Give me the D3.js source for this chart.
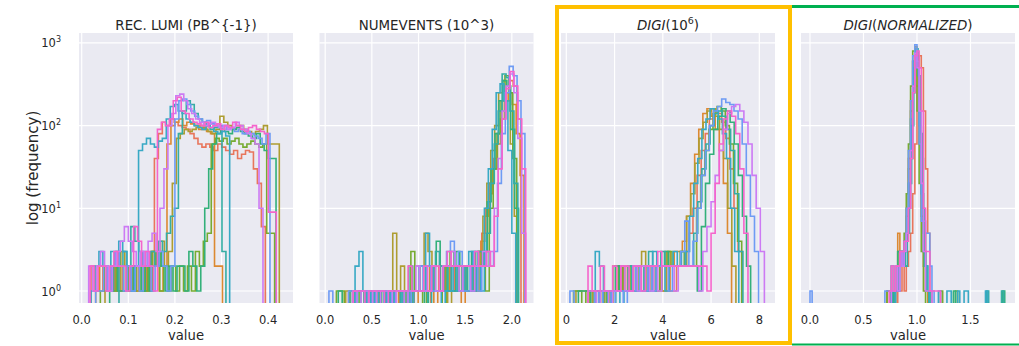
<!DOCTYPE html>
<html>
<head>
<meta charset="utf-8">
<script src="https://cdn.jsdelivr.net/npm/d3@7"></script>
<style>
  body { margin: 0; background: #fff; }
  svg text { font-family: "DejaVu Sans", sans-serif; fill: #262626; }
</style>
</head>
<body>
<svg id="chart" width="1019" height="346"></svg>
<script>
// husl-ish palette, one colour per run
const palette = ["#e8765c", "#dc8932", "#ae9d31", "#77ab31", "#33b07a",
                 "#36ada4", "#38a9c5", "#6e9bf4", "#cc7af4", "#f565cc"];

// ---- REC. LUMI ----
const lumiBin = 0.0085;
const lumiStart = [0.02, 0.03, 0.05, 0.04, 0.06, 0.08, 0.02, 0.03, 0.015, 0.018];
const lumiCounts = [
  [2,1,2,1,1,2,1,2,1,2,1,1,2,2,1,2, 40,80,110,100,120,110,100,95,90,80,70,60,55,60,55,50,60,55,50,45,50,40,45,50,48,30,20,6],
  [1,2,1,1,2,1,1,2,1,2,1,2,1,2,3,2,1,2, 60,100,110,120,100,110,105,100,90,95,85,80,2,2],
  [1,1,2,1,3,2,1,2,1,1,2,1,3,2,4,2,3, 20,70,80,90,85,90,95,100,90,85,80,90,130,110,100,90,95,100,90,85,80,85,90,100,60,60,60],
  [1,2,1,1,3,2,2,1,1,2,1,1,2,3,2,1,2,1,2,1,2,1,2,1,3,2,4,5, 60,70,65,70,60,65,70,60,55,60,65,60,55,60,5,5],
  [1,2,1,1,2,1,2,2,1,2,1,2,3,2,1,2,1,2,2,1,3,2,1,2, 10,30,60,80,90,85,80,90,95,85,80,75,70,80,60,50,40,40],
  [2,3,2,6,4,3,2,2,3,2,4,3,5,8,10, 80,150,200,180,140,120,110,100,90,95,100,3],
  [1,2,3,2,1,3,2,4,3,2,1,2, 50,60,70,60,55,65,70,120,170,180,150,140,120,110,100,95,90,100,95,85,80,85,75],
  [1,1,2,1,2,3,2,1,2,1,2,1,3,2,1,2,3,2,1,2, 120,200,210,180,150,130,120,110,115,105,100,95,100,90,95,85,90,80,85,80,75,70,60,80],
  [2,1,2,3,2,1,2,3,4,6,4,3,2,3,2,4,5,3,10, 30,100,140,230,240,200,160,140,120,110,100,105,110,100,95,100,90,95,110,100,90,80,70,60,10],
  [2,1,2,2,1,2,3,2,2,1,2,6,4,2,3,2,1, 90,110,100,120,200,220,150,140,120,110,105,100,110,95,100,105,90,100,95,110,100,90,85,95,100,90,85,80,9,9]
];

// ---- NUMEVENTS ----
const eventsBin = 0.042;
const eventsStart = [0.25, 0.45, 0.22, 0.12, 0.14, 0.3, 0.32, 0.04, 0.3, 0.3];
const eventsCounts = [
  [1,0,1,1,0,1,0,1,1,0,1,1,0,1,1,0,1,2,1,1,0,1,1,2,1,1,2,1,1,1,2,2,1, 3,5,10,20,40,80,150,250,350,300,120],
  [1,0,0,1,1,0,1,0,1,1,0,1,0,1,1,2,1,0,1,1,2,1,1,1,0,1,1,2,1, 4,8,15,30,60,120,200,250,180,80,25],
  [1,0,1,0,0,1,1,0,1,0,0,1,5,1,2,1,0,1,1,2,5,3,1,1,2,1,0,1,1,2,1,1,2,1,3, 8,20,50,100,250,350,200,60,8],
  [1,1,0,0,0,1,0,1,1,0,1,0,1,1,0,1,1,0,1,3,1,1,0,1,2,1,1,0,2,3,2,1,2,1,1,2,3,2,1, 10,30,80,200,400,250,40],
  [1,0,0,1,0,1,1,0,0,1,1,0,1,0,1,1,0,1,2,1,1,1,0,1,2,4,1,2,1,1,3,2,2,1,3,2,2,3, 12,30,80,200,350,300,90,10],
  [1,1,0,1,0,1,1,0,1,0,1,1,0,1,0,1,1,2,1,0,1,3,2,1,2,1,1,2,1,2,1,2,3,2,5, 20,60,150,420,380,150,20],
  [2,3,1,0,1,0,1,1,0,1,0,0,1,1,0,1,1,1,5,2,1,1,0,1,1,2,1,1,2,3,1,2,1, 10,30,90,250,320,200,50,5],
  [1,0,0,0,0,1,0,1,1,0,1,0,1,1,0,1,0,1,1,1,0,1,1,2,1,2,1,1,1,2,3,4,2,3,1,1,2,3,1,2,3,2,3, 20,80,250,520,400,200,80],
  [1,0,1,1,0,1,0,1,1,1,0,1,1,0,1,1,2,1,1,1,2,1,1,2,2,3,2,1,2,2,1,2,2,3,2,3, 10,40,150,300,420,250,70,5],
  [1,1,1,0,1,1,1,1,0,1,1,1,1,1,2,1,1,1,2,1,2,2,1,2,3,2,2,2,2,2,2,3,2,2,3,2, 8,30,120,280,450,300,120,30]
];

// ---- DIGI (10^6) ----
const digiBin = 0.17;
const digiStart = [1.0, 0.9, 0.4, 0.3, 0.5, 1.2, 1.2, 0.15, 0.9, 0.9];
const digiCounts = [
  [1,0,1,1,0,1,1,1,2,1,1,2,1,1,2,2,1,2,2,1,1,2,2,3, 5,10,25,50,80,120,150,140,110,70,30,10,3],
  [1,1,0,1,1,0,1,2,2,1,1,2,1,1,2,1,2,2,1,1,2,3, 3,4,8,20,45,90,140,160,130,90,50,20,5],
  [1,1,1,0,1,1,0,1,0,2,2,1,1,2,1,2,3,1,2,2,2,1,3,2,2,2,2, 8,15,35,70,110,150,160,130,90,40,10,2],
  [1,1,0,1,0,1,1,1,0,1,1,2,1,1,2,2,1,1,2,2,1,2,2,3,2,2,3,2,2,2, 10,25,50,90,140,170,150,100,60,20,4],
  [1,1,1,0,1,0,1,1,1,2,1,1,1,2,1,1,2,2,1,2,2,3,2,2,2,2,2,2,2,1, 6,20,45,90,130,160,150,110,60,25,8,2],
  [1,0,1,1,0,1,1,1,2,2,1,1,1,3,2,2,3,2,2,2,2,3,2,2, 5,12,30,60,100,140,150,130,90,50,15,3],
  [3,2,1,0,1,1,0,1,1,2,1,1,2,1,3,2,2,1,2,3,2,2,3, 8,20,40,90,120,160,150,120,80,40,10,3],
  [1,0,0,0,0,0,1,0,1,1,0,1,1,0,1,1,2,1,1,2,1,2,2,2,1,2,2,3,7,2, 4,10,25,50,100,150,170,210,190,180,150,120,60,25,8,3],
  [1,1,0,1,1,0,1,1,2,1,1,2,1,2,2,1,2,1,2,2,2,1,2,2,2,2,2,1, 3,6,12,25,50,90,140,170,180,150,110,60,25,10,3],
  [2,1,1,2,1,1,2,1,2,2,1,2,2,1,2,2,2,3,2,2,2,2,2,2,2,2,2,2,2,1, 5,20,60,120,150,130,80,30,5]
];

// ---- DIGI (normalized) ----
const normBin = 0.02;
const normStart = [0.78, 0.72, 0.72, 0.72, 0.78, 0.75, 0.8, 0.0, 0.76, 0.74];
const normCounts = [
  [1,0,1,1,2,1,2,3,5,15,60,300,700,500,150,30,5,1],
  [1,1,0,1,2,5,3,2,4,10,40,200,600,700,300,60,8,2,1],
  [1,1,1,0,1,2,3,2,3,8,30,150,600,900,500,100,15,3,1,1],
  [1,1,2,1,1,3,2,3,5,15,60,300,800,600,150,20,3,1, 0,0,0,0,0,0,0,1,0,0,0,0,0,0,1],
  [1,2,3,3,2,4,5,10,40,250,700,600,200,40,5,2,1, 0,0,0,0,0,0,0,0,0,0,0,1,0,0,0,0,0,0,0,0,0,0,0,0,0,0,0,0,0,0,0,0,0,0,1],
  [1,0,1,1,2,3,3,2,5,20,100,500,850,400,80,10,2,1, 0,0,0,0,0,0,0,0,0,0,0,0,0,0,0,0,0,0,0,0,0,0,0,0,0,0,0,1,0,0,0,0,0,0,1],
  [1,1,2,2,3,5,20,120,600,800,500,100,15,3,2,1, 0,0,0,0,1,0,0,0,1,1,0,0,0,1,0,0,1,1,0,0,0,0,0,0,0,0,1],
  [1, 0,0,0,0,0,0,0,0,0,0,0,0,0,0,0,0,0,0,0,0,0,0,0,0,0,0,0,0,0,0,0,0,0,0,
   1,1,1,2,1,2,2,3,2,4,10,50,200,700,950,600,60,7,7,5,5,2,1],
  [1,1,2,1,3,2,3,5,10,50,300,750,500,150,20,3,1,1,1],
  [1,2,1,2,2,3,3,4,4,10,40,250,700,800,500,150,10,3,3,1,1,1,1,1]
];

const panelTitles = [
  [["REC. LUMI (PB^{-1})", "n"]],
  [["NUMEVENTS (10^3)", "n"]],
  [["DIGI", "i"], ["(10", "n"], ["6", "sup"], [")", "n"]],
  [["DIGI", "i"], ["(", "n"], ["NORMALIZED", "i"], [")", "n"]]
];
const xTicks = [[0, 0.1, 0.2, 0.3, 0.4], [0, 0.5, 1.0, 1.5, 2.0], [0, 2, 4, 6, 8], [0, 0.5, 1.0, 1.5]];
const xDomains = [[-0.0058, 0.4534], [-0.061, 2.232], [-0.22, 8.65], [-0.084, 1.916]];
const yTicks = [1, 10, 100, 1000];

const panels = [
  { bin: lumiBin, starts: lumiStart, counts: lumiCounts, fmt: d3.format(".1f"), left: 79 },
  { bin: eventsBin, starts: eventsStart, counts: eventsCounts, fmt: d3.format(".1f"), left: 319.5 },
  { bin: digiBin, starts: digiStart, counts: digiCounts, fmt: d3.format("d"), left: 561 },
  { bin: normBin, starts: normStart, counts: normCounts, fmt: d3.format(".1f"), left: 801 }
];

const W = 214, plotTop = 33, plotBottom = 303;
const svg = d3.select("#chart");

const y = d3.scaleLog().domain([0.716, 1318]).range([plotBottom, plotTop]);

// highlight boxes round the last two panels
svg.append("rect")
  .attr("x", 557).attr("y", 7).attr("width", 233).attr("height", 336)
  .attr("fill", "none").attr("stroke", "#ffc000").attr("stroke-width", 4);
svg.append("line").attr("x1", 792).attr("x2", 1019).attr("y1", 6.5).attr("y2", 6.5)
  .attr("stroke", "#00b050").attr("stroke-width", 3);
svg.append("line").attr("x1", 792).attr("x2", 1019).attr("y1", 344.5).attr("y2", 344.5)
  .attr("stroke", "#00b050").attr("stroke-width", 2);

panels.forEach((p, pi) => {
  const x = d3.scaleLinear().domain(xDomains[pi]).range([p.left, p.left + W]);
  const g = svg.append("g");

  g.append("rect")
    .attr("x", p.left).attr("y", plotTop).attr("width", W).attr("height", plotBottom - plotTop)
    .attr("fill", "#eaeaf2");

  // grid
  g.selectAll(".gx").data(xTicks[pi]).join("line")
    .attr("x1", d => x(d)).attr("x2", d => x(d))
    .attr("y1", plotTop).attr("y2", plotBottom)
    .attr("stroke", "#fff").attr("stroke-width", 1.2);
  g.selectAll(".gy").data(yTicks).join("line")
    .attr("x1", p.left).attr("x2", p.left + W)
    .attr("y1", d => y(d)).attr("y2", d => y(d))
    .attr("stroke", "#fff").attr("stroke-width", 1.2);

  // clip
  const clipId = "clip" + pi;
  svg.append("clipPath").attr("id", clipId)
    .append("rect").attr("x", p.left).attr("y", plotTop).attr("width", W).attr("height", plotBottom - plotTop);

  const floorY = plotBottom + 10;
  const line = d3.line()
    .x(d => x(d[0]))
    .y(d => d[1] > 0 ? y(d[1]) : floorY);

  const hg = g.append("g").attr("clip-path", "url(#" + clipId + ")");
  p.counts.forEach((counts, si) => {
    const s = p.starts[si];
    const pts = [[s, 0]];
    counts.forEach((c, i) => {
      pts.push([s + i * p.bin, c]);
      pts.push([s + (i + 1) * p.bin, c]);
    });
    pts.push([s + counts.length * p.bin, 0]);
    hg.append("path")
      .attr("d", line(pts))
      .attr("fill", "none")
      .attr("stroke", palette[si])
      .attr("stroke-width", 1.6)
      .attr("stroke-linejoin", "miter");
  });

  // x tick labels
  g.selectAll(".xt").data(xTicks[pi]).join("text")
    .attr("x", d => x(d)).attr("y", 323.5)
    .attr("text-anchor", "middle").attr("font-size", 11.5)
    .text(d => p.fmt(d));

  g.append("text")
    .attr("x", p.left + W / 2).attr("y", 339.5)
    .attr("text-anchor", "middle").attr("font-size", 13.2)
    .text("value");

  // title
  const t = g.append("text")
    .attr("x", p.left + W / 2).attr("y", 29.5)
    .attr("text-anchor", "middle").attr("font-size", 13.4);
  let raised = false;
  panelTitles[pi].forEach(([txt, st]) => {
    const ts = t.append("tspan").text(txt);
    if (st === "i") ts.attr("font-style", "italic");
    if (st === "sup") { ts.attr("dy", -5.5).attr("font-size", 9.5); raised = true; }
    else if (raised) { ts.attr("dy", 5.5); raised = false; }
  });

  if (pi === 0) {
    yTicks.forEach((v, k) => {
      const yt = g.append("text")
        .attr("x", 61).attr("y", y(v) + 4.5)
        .attr("text-anchor", "end").attr("font-size", 11.5);
      yt.append("tspan").text("10");
      yt.append("tspan").attr("dy", -5).attr("font-size", 8).text(String(k));
    });
    g.append("text")
      .attr("transform", "translate(38," + ((plotTop + plotBottom) / 2) + ") rotate(-90)")
      .attr("text-anchor", "middle").attr("font-size", 15)
      .text("log (frequency)");
  }
});
</script>
</body>
</html>
